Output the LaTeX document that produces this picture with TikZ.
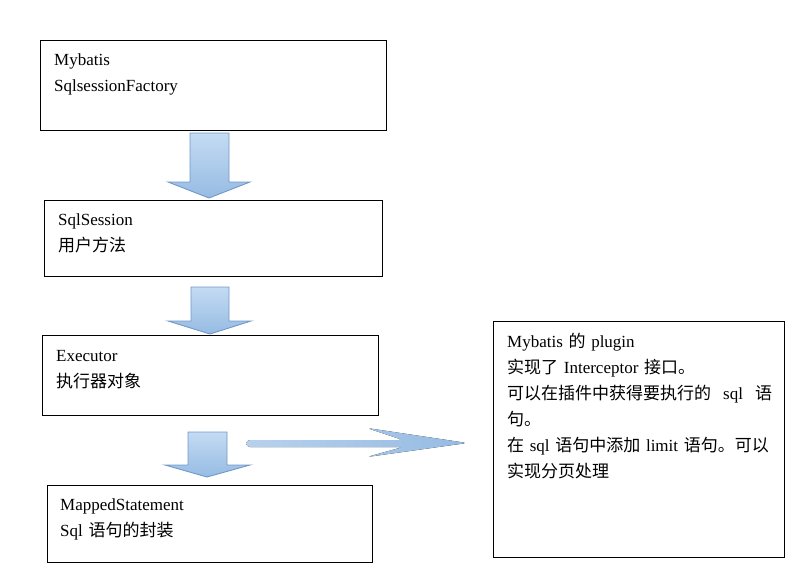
\documentclass[tikz,border=0pt]{standalone}
\usepackage{fontspec}
\setmainfont{Liberation Serif}
\newfontfamily\cjk{Noto Sans CJK SC}
\usetikzlibrary{positioning}

\definecolor{arrowtop}{RGB}{196,219,243}
\definecolor{arrowbot}{RGB}{150,187,227}
\definecolor{arrowline}{RGB}{112,152,200}
\definecolor{flowlight}{RGB}{182,209,237}
\definecolor{flowdark}{RGB}{150,187,227}

\tikzset{
  box/.style={draw, line width=0.9pt, anchor=north west, inner sep=0},
  txt/.style={anchor=base west, inner sep=0, align=left, text width=290,
    font=\fontsize{17}{26}\selectfont},
  downblock/.style={draw=arrowline, line width=0.9pt, top color=arrowtop,
    bottom color=arrowbot, line join=miter},
  flowblock/.style={left color=flowlight, right color=flowdark, rounded corners=4}
}

\begin{document}
\begin{tikzpicture}[x=1pt,y=-1pt]
\useasboundingbox (0,0) rectangle (794,583);

% boxes
\node[box, minimum width=346, minimum height=90] (factory) at (40,40) {};
\node[box, minimum width=338, minimum height=76] (session) at (44,200) {};
\node[box, minimum width=336, minimum height=80] (executor) at (42,335) {};
\node[box, minimum width=325, minimum height=77] (mapped) at (47,485) {};
\node[box, minimum width=291, minimum height=236] (plugin) at (493,321) {};

% texts
\node[txt] (factorytxt) at ([shift={(14,26)}]factory.north west)
  {Mybatis\\SqlsessionFactory};
\node[txt] (sessiontxt) at ([shift={(14,25)}]session.north west)
  {SqlSession\\{\cjk 用户方法}};
\node[txt] (executortxt) at ([shift={(14,26)}]executor.north west)
  {Executor\\{\cjk 执行器对象}};
\node[txt] (mappedtxt) at ([shift={(13,25)}]mapped.north west)
  {MappedStatement\\Sql {\cjk 语句的封装}};
\node[txt] (plugintxt) at ([shift={(14,26)}]plugin.north west)
  {Mybatis {\cjk 的} plugin\\
   {\cjk 实现了} Interceptor {\cjk 接口。}\\
   {\cjk 可以在插件中获得要执行的}\hspace{12pt}sql\hspace{12pt}{\cjk 语}\\
   {\cjk 句。}\\
   {\cjk 在} sql {\cjk 语句中添加} limit {\cjk 语句。可以}\\
   {\cjk 实现分页处理}};

% block arrows
\draw[downblock] (190,133) -- (229,133) -- (229,182) -- (250,182)
  -- (209,198) -- (168,182) -- (190,182) -- cycle;
\draw[downblock] (191,287) -- (229,287) -- (229,321) -- (251,321)
  -- (210,334) -- (168,321) -- (191,321) -- cycle;
\draw[downblock] (188,432) -- (227,432) -- (227,465) -- (250,465)
  -- (207,477) -- (165,465) -- (188,465) -- cycle;

% arrow towards the plugin
\coordinate (flowstart) at (246,443.5);
\coordinate (flowend) at (467,443);
\fill[flowblock] (flowstart) ++(0,-3.5) -- ++(157,0) -- ++(-36,-12)
  -- (flowend) -- ++(-100,14) -- ++(36,-10) -- ++(-157,0) -- cycle;
\end{tikzpicture}
\end{document}
